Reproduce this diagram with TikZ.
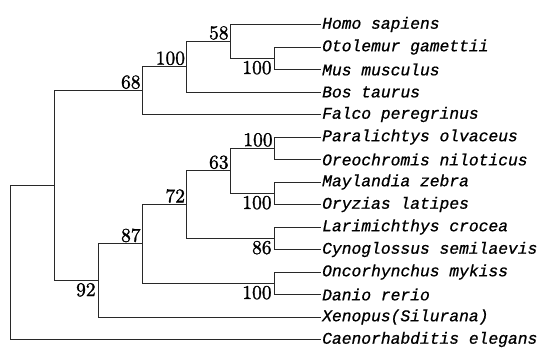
\documentclass[tikz,border=0pt]{standalone}
\usepackage{fontspec}
\usepackage{tikz}
\usetikzlibrary{positioning,calc}
\newfontfamily\taxonfont{Liberation Mono}[FakeBold=0.8]
\newfontfamily\bootfont{lmroman10-regular.otf}[FakeBold=1.5]
\definecolor{branchgray}{RGB}{40,40,40}

\begin{document}
\begin{tikzpicture}[x=1pt,y=-1pt,
    branch/.style={draw=branchgray, line width=1pt},
    taxon/.style={anchor=west, inner sep=1pt, font=\taxonfont\itshape\fontsize{16.3}{17}\selectfont},
    bootup/.style={anchor=south east, inner sep=1.5pt, font=\bootfont\fontsize{19.5}{20}\selectfont},
    bootdown/.style={anchor=north east, inner sep=2.5pt, font=\bootfont\fontsize{19.5}{20}\selectfont}]
    \useasboundingbox (0,0) rectangle (550,351);

    % Taxa
    \node[taxon] (homo)   at (321,24.5)  {Homo sapiens};
    \node[taxon] (otol)   at (321,47)    {Otolemur gamettii};
    \node[taxon] (mus)    at (321,69.5)  {Mus musculus};
    \node[taxon] (bos)    at (321,92)    {Bos taurus};
    \node[taxon] (falco)  at (321,114.5) {Falco peregrinus};
    \node[taxon] (paral)  at (321,137)   {Paralichtys olvaceus};
    \node[taxon] (oreo)   at (321,159.5) {Oreochromis niloticus};
    \node[taxon] (mayl)   at (321,182)   {Maylandia zebra};
    \node[taxon] (oryz)   at (321,204.5) {Oryzias latipes};
    \node[taxon] (larim)  at (321,227)   {Larimichthys crocea};
    \node[taxon] (cyno)   at (321,249.5) {Cynoglossus semilaevis};
    \node[taxon] (onco)   at (321,272)   {Oncorhynchus mykiss};
    \node[taxon] (danio)  at (321,294.5) {Danio rerio};
    \node[taxon] (xeno)   at (321,317)   {Xenopus(Silurana)};
    \node[taxon] (caeno)  at (321,339.5) {Caenorhabditis elegans};

    % Internal nodes
    \coordinate (root)  at (10,262.5);
    \coordinate (nA)    at (54.3,185.5);
    \coordinate (n68)   at (142.3,90.6);
    \coordinate (n100a) at (186.7,66.7);
    \coordinate (n58)   at (230.3,41.4);
    \coordinate (n100b) at (274.3,58.25);
    \coordinate (n92)   at (98.3,280.4);
    \coordinate (n87)   at (142.3,243.9);
    \coordinate (n72)   at (186.7,204.5);
    \coordinate (n63)   at (230.3,170.75);
    \coordinate (n100c) at (274.3,148.25);
    \coordinate (n100d) at (274.3,193.25);
    \coordinate (n86)   at (274.3,238.25);
    \coordinate (n100e) at (274.3,283.25);

    % Branches
    \draw[branch] (root) |- (nA);
    \draw[branch] (root) |- (caeno.west);
    \draw[branch] (nA) |- (n68);
    \draw[branch] (nA) |- (n92);
    \draw[branch] (n68) |- (n100a);
    \draw[branch] (n68) |- (falco.west);
    \draw[branch] (n100a) |- (n58);
    \draw[branch] (n100a) |- (bos.west);
    \draw[branch] (n58) |- (homo.west);
    \draw[branch] (n58) |- (n100b);
    \draw[branch] (n100b) |- (otol.west);
    \draw[branch] (n100b) |- (mus.west);
    \draw[branch] (n92) |- (n87);
    \draw[branch] (n92) |- (xeno.west);
    \draw[branch] (n87) |- (n72);
    \draw[branch] (n87) |- (n100e);
    \draw[branch] (n72) |- (n63);
    \draw[branch] (n72) |- (n86);
    \draw[branch] (n63) |- (n100c);
    \draw[branch] (n63) |- (n100d);
    \draw[branch] (n100c) |- (paral.west);
    \draw[branch] (n100c) |- (oreo.west);
    \draw[branch] (n100d) |- (mayl.west);
    \draw[branch] (n100d) |- (oryz.west);
    \draw[branch] (n86) |- (larim.west);
    \draw[branch] (n86) |- (cyno.west);
    \draw[branch] (n100e) |- (onco.west);
    \draw[branch] (n100e) |- (danio.west);

    % Bootstrap values
    \node[bootup]   (b68)   at (n68)   {68};
    \node[bootup]   (b100a) at (n100a) {100};
    \node[bootup]   (b58)   at (n58)   {58};
    \node[bootdown] (b100b) at (n100b) {100};
    \node[bootdown] (b92)   at (n92)   {92};
    \node[bootup]   (b87)   at (n87)   {87};
    \node[bootup]   (b72)   at (n72)   {72};
    \node[bootup]   (b63)   at (n63)   {63};
    \node[bootup]   (b100c) at (n100c) {100};
    \node[bootdown] (b100d) at (n100d) {100};
    \node[bootdown] (b86)   at (n86)   {86};
    \node[bootdown] (b100e) at (n100e) {100};
\end{tikzpicture}
\end{document}
